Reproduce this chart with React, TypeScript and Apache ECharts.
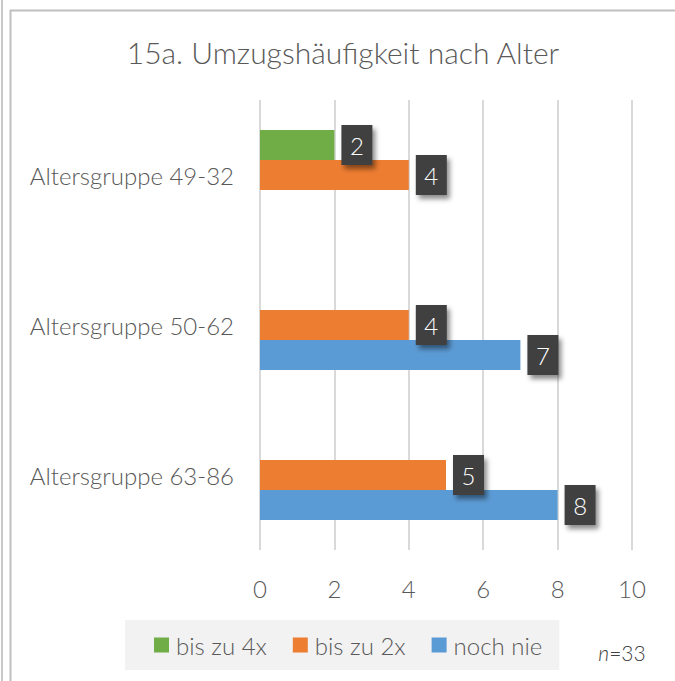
import React, { useEffect, useRef } from "react";
import * as echarts from "echarts";

const categories = ["Altersgruppe 63-86", "Altersgruppe 50-62", "Altersgruppe 49-32"];
const seriesNames = ["bis zu 4x", "bis zu 2x", "noch nie"];
const bisZu4x = [null, null, 2];
const bisZu2x = [5, 4, 4];
const nochNie = [8, 7, null];
const colors = ["#70ad47", "#ed7d31", "#5b9bd5"];
const xTicks = [0, 2, 4, 6, 8, 10];

const FONT = "Lato, 'Open Sans', sans-serif";

export default function App() {
  const ref = useRef<HTMLDivElement>(null);
  useEffect(() => {
    if (!ref.current) return;
    const chart = echarts.init(ref.current, undefined, { renderer: "svg" });
    const values = [bisZu4x, bisZu2x, nochNie];
    const label = {
      show: true,
      position: "right",
      distance: 7,
      backgroundColor: "#404040",
      padding: 0,
      shadowBlur: 5,
      shadowOffsetX: 3,
      shadowOffsetY: 4,
      shadowColor: "rgba(0,0,0,0.45)",
      formatter: (p: any) => (p.value == null ? "" : `{v|${p.value}}`),
      rich: {
        v: {
          width: 31,
          height: 40,
          lineHeight: 40,
          align: "center",
          color: "#ffffff",
          fontSize: 24,
          fontWeight: 300,
          fontFamily: FONT,
        },
      },
    };
    chart.setOption({
      animation: false,
      backgroundColor: "#ffffff",
      title: {
        text: "15a. Umzugshäufigkeit nach Alter",
        left: 338,
        textAlign: "center",
        top: 32,
        textStyle: { fontFamily: FONT, fontSize: 30, fontWeight: 300, color: "#595959" },
      },
      grid: { left: 260, right: 43, top: 100, bottom: 131 },
      xAxis: {
        type: "value",
        min: 0,
        max: 10,
        interval: 2,
        axisLine: { show: false },
        axisTick: { show: false },
        splitLine: { lineStyle: { color: "#d9d9d9", width: 2 } },
        axisLabel: {
          margin: 26,
          fontFamily: FONT,
          fontSize: 24,
          fontWeight: 300,
          color: "#595959",
          formatter: (v: number) => (xTicks.includes(v) ? String(v) : ""),
        },
      },
      yAxis: {
        type: "category",
        data: categories,
        axisLine: { show: false },
        axisTick: { show: false },
        axisLabel: { margin: 26, fontFamily: FONT, fontSize: 24, fontWeight: 300, color: "#595959" },
      },
      legend: {
        data: seriesNames,
        left: 125,
        top: 620,
        width: 437,
        height: 50,
        backgroundColor: "#f2f2f2",
        padding: [13, 17, 13, 29],
        icon: "rect",
        itemWidth: 15,
        itemHeight: 15,
        itemGap: 26,
        textStyle: { fontFamily: FONT, fontSize: 24, fontWeight: 300, color: "#595959", padding: [0, 0, 0, 2] },
      },
      series: seriesNames.map((name, i) => ({
        name,
        type: "bar",
        data: values[i],
        barGap: "0%",
        barCategoryGap: "40%",
        itemStyle: { color: colors[i] },
        label,
      })),
      graphic: [
        { type: "line", shape: { x1: 2, y1: 0, x2: 2, y2: 681 }, style: { stroke: "#c8c8c8", lineWidth: 2 } },
        { type: "rect", shape: { x: 10.5, y: 10.5, width: 700, height: 700 }, style: { fill: "none", stroke: "#bfbfbf", lineWidth: 2 } },
        {
          type: "text",
          x: 622,
          y: 652,
          style: {
            text: "{i|n}{r|=33}",
            align: "center",
            verticalAlign: "middle",
            rich: {
              i: { fontFamily: FONT, fontSize: 21, fontWeight: 300, fontStyle: "italic", fill: "#404040" },
              r: { fontFamily: FONT, fontSize: 21, fontWeight: 300, fill: "#404040" },
            },
          },
        },
      ],
    });
    return () => chart.dispose();
  }, []);
  return <div ref={ref} style={{ width: 675, height: 681, position: "absolute", left: 0, top: 0 }} />;
}
